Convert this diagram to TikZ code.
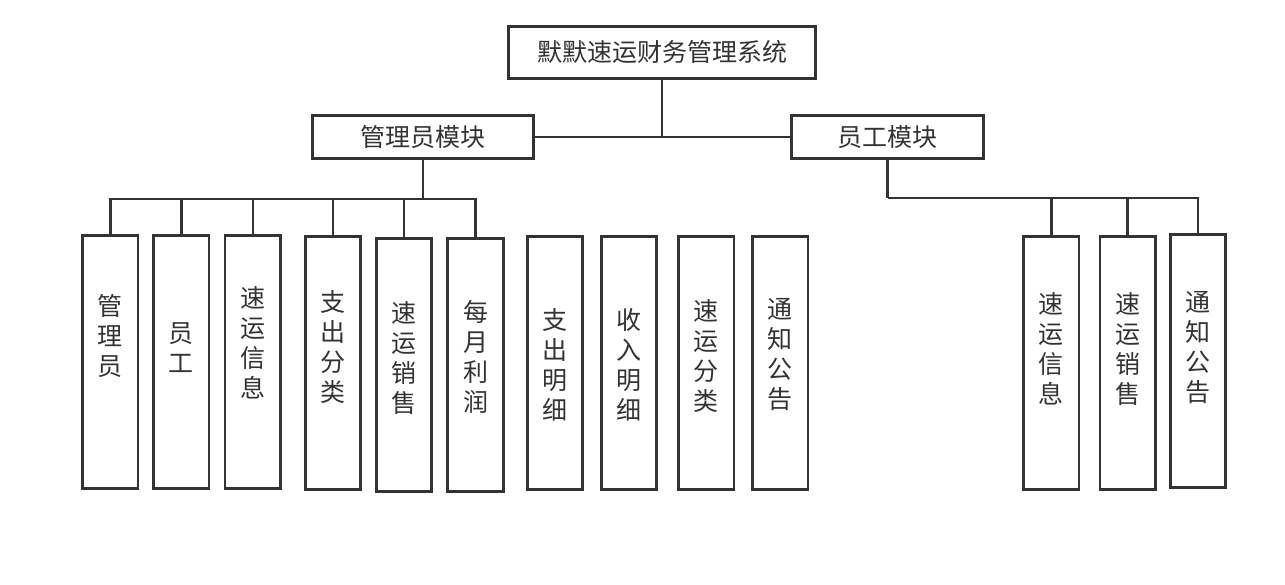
\documentclass[tikz,border=0pt]{standalone}
\usepackage{fontspec}
\newfontfamily\cjk{Noto Sans CJK SC}
\usepackage{tikz}
\usetikzlibrary{positioning,calc}
\definecolor{linegray}{HTML}{333333}

\begin{document}
\begin{tikzpicture}[x=1pt, y=-1pt, font=\cjk\fontsize{25}{30}\selectfont, line width=2.6pt]
\tikzstyle{box}=[draw=linegray, text=linegray, inner sep=0pt, align=center]
\tikzstyle{topbox}=[box, minimum width=307pt, minimum height=52pt]
\tikzstyle{modbox}=[box, minimum height=43pt]
\tikzstyle{col}=[box, minimum width=55.5pt, minimum height=253pt]
\tikzstyle{vtxt}=[text=linegray, align=center, inner sep=0pt]
\tikzstyle{link}=[draw=linegray]
\useasboundingbox (0,0) rectangle (1285,585);
% top level
\node[topbox] (sys) at (662,52.5) {默默速运财务管理系统};
\node[modbox, minimum width=221pt] (adm) at (423,137) {管理员模块};
\node[modbox, minimum width=192pt] (emp) at (887.5,137) {员工模块};
\draw[link] (sys.south) -- (sys.south |- adm.east);
\draw[link] (adm.east) -- (emp.west);
% admin columns
\node[col, label={[vtxt,yshift=26pt]center:管\\理\\员}] (m1) at (110.4,362) {};
\node[col, label={[vtxt,yshift=14pt]center:员\\工}] (m2) at (181.3,362) {};
\node[col, label={[vtxt,yshift=19pt]center:速\\运\\信\\息}] (m3) at (252.8,362) {};
\node[col, label={[vtxt,yshift=16pt]center:支\\出\\分\\类}] (m4) at (333,363) {};
\node[col, label={[vtxt,yshift=7pt]center:速\\运\\销\\售}] (m5) at (404,365) {};
\node[col, label={[vtxt,yshift=8pt]center:每\\月\\利\\润}] (m6) at (475.5,365) {};
\node[col, label={[vtxt,yshift=-2pt]center:支\\出\\明\\细}] (u1) at (555,363) {};
\node[col, label={[vtxt,yshift=-2pt]center:收\\入\\明\\细}] (u2) at (629,363) {};
\node[col, label={[vtxt,yshift=7pt]center:速\\运\\分\\类}] (u3) at (706.3,363) {};
\node[col, label={[vtxt,yshift=8pt]center:通\\知\\公\\告}] (u4) at (780.3,363) {};
% employee columns
\node[col, label={[vtxt,yshift=14pt]center:速\\运\\信\\息}] (e1) at (1051.3,363) {};
\node[col, label={[vtxt,yshift=14pt]center:速\\运\\销\\售}] (e2) at (1127.7,363) {};
\node[col, label={[vtxt,yshift=13pt]center:通\\知\\公\\告}] (e3) at (1198,361) {};
% connectors
\coordinate (abus) at (423,199);
\coordinate (ebus) at (887.5,198);
\draw[link] (adm.south) -- (abus);
\draw[link] (emp.south) -- (ebus);
\foreach \n in {m1,m2,m3,m4,m5,m6}
  \draw[link] (abus) -| (\n.north);
\foreach \n in {e1,e2,e3}
  \draw[link] (ebus) -| (\n.north);
\end{tikzpicture}
\end{document}
